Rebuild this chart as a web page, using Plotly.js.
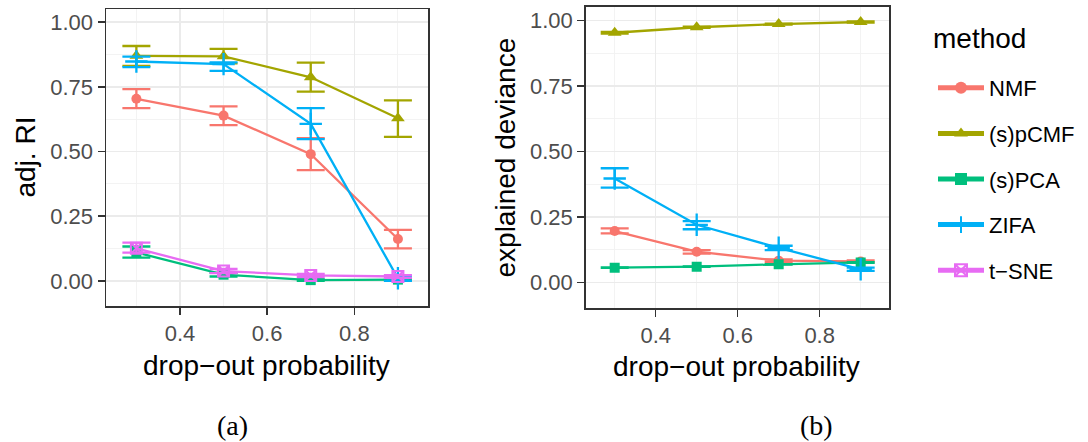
<!DOCTYPE html>
<html>
<head>
<meta charset="utf-8">
<script src="https://cdn.plot.ly/plotly-3.0.1.min.js"></script>
<style>html,body{margin:0;padding:0;background:#fff;}#chart{width:1088px;height:442px;}</style>
</head>
<body>
<div id="chart"></div>
<script>
// ---- data ----
const dropout = [0.3, 0.5, 0.7, 0.9];
const methods = ["NMF", "(s)pCMF", "(s)PCA", "ZIFA", "t\u2212SNE"];
const colors = ["#F8766D", "#A3A500", "#00BF7D", "#00B0F6", "#E76BF3"];
const symbols = ["circle", "triangle-up", "square", "cross-thin-open", "square-x-open"];
const symbolSizes = [10, 12, 10, 16, 11];

// adjusted Rand index (panel a): mean, lower, upper
const riNMF = [0.704, 0.639, 0.490, 0.162];
const riNMFlo = [0.668, 0.602, 0.428, 0.126];
const riNMFhi = [0.741, 0.675, 0.552, 0.197];
const riPCMF = [0.870, 0.868, 0.787, 0.629];
const riPCMFlo = [0.831, 0.841, 0.732, 0.557];
const riPCMFhi = [0.908, 0.897, 0.844, 0.698];
const riPCA = [0.110, 0.024, 0.003, 0.005];
const riPCAlo = [0.090, 0.017, 0.000, 0.001];
const riPCAhi = [0.133, 0.031, 0.007, 0.009];
const riZIFA = [0.848, 0.838, 0.607, 0.010];
const riZIFAlo = [0.826, 0.812, 0.548, 0.000];
const riZIFAhi = [0.867, 0.845, 0.668, 0.020];
const riTSNE = [0.126, 0.038, 0.021, 0.017];
const riTSNElo = [0.109, 0.030, 0.015, 0.012];
const riTSNEhi = [0.148, 0.046, 0.027, 0.022];

// explained deviance (panel b): mean, lower, upper
const edNMF = [0.196, 0.117, 0.083, 0.080];
const edNMFlo = [0.187, 0.110, 0.078, 0.076];
const edNMFhi = [0.206, 0.123, 0.088, 0.084];
const edPCMF = [0.954, 0.975, 0.987, 0.995];
const edPCMFlo = [0.951, 0.973, 0.985, 0.993];
const edPCMFhi = [0.957, 0.977, 0.989, 0.997];
const edPCA = [0.056, 0.060, 0.069, 0.076];
const edPCAlo = [0.055, 0.059, 0.068, 0.075];
const edPCAhi = [0.057, 0.061, 0.070, 0.077];
const edZIFA = [0.397, 0.220, 0.132, 0.050];
const edZIFAlo = [0.362, 0.203, 0.123, 0.044];
const edZIFAhi = [0.436, 0.234, 0.140, 0.056];

// tick labels
const xTicks = [0.4, 0.6, 0.8];
const xTickText = ["0.4", "0.6", "0.8"];
const yTicks = [0, 0.25, 0.5, 0.75, 1];
const yTickText = ["0.00", "0.25", "0.50", "0.75", "1.00"];

const riSeries = [[riNMF, riNMFlo, riNMFhi], [riPCMF, riPCMFlo, riPCMFhi], [riPCA, riPCAlo, riPCAhi], [riZIFA, riZIFAlo, riZIFAhi], [riTSNE, riTSNElo, riTSNEhi]];
const edSeries = [[edNMF, edNMFlo, edNMFhi], [edPCMF, edPCMFlo, edPCMFhi], [edPCA, edPCAlo, edPCAhi], [edZIFA, edZIFAlo, edZIFAhi], null];

function mkTrace(i, s, xa, ya, showleg) {
  const y = s[0], lo = s[1], hi = s[2];
  const isCross = symbols[i].indexOf("cross") === 0;
  return {
    type: "scatter", mode: "lines+markers",
    x: dropout, y: y, xaxis: xa, yaxis: ya,
    name: methods[i], legendgroup: methods[i], showlegend: showleg,
    line: {color: colors[i], width: 2.3},
    marker: {symbol: symbols[i], size: symbolSizes[i], color: colors[i],
             line: {color: colors[i], width: isCross ? 2.3 : (symbols[i].indexOf("open") > 0 ? 2 : 0)}},
    error_y: {type: "data", symmetric: false,
              array: hi.map((h, k) => h - y[k]),
              arrayminus: lo.map((l, k) => y[k] - l),
              color: colors[i], thickness: 2.3, width: 14}
  };
}

const traces = [];
riSeries.forEach((s, i) => traces.push(mkTrace(i, s, "x", "y", true)));
edSeries.forEach((s, i) => { if (s) traces.push(mkTrace(i, s, "x2", "y2", false)); });

const FONT = "Liberation Sans, Arial, Helvetica, sans-serif";
function xa(domain, range) {
  return {domain: domain, range: range, tickmode: "array", tickvals: xTicks, ticktext: xTickText,
    showgrid: true, gridcolor: "#EBEBEB", gridwidth: 1.5,
    minor: {dtick: 0.1, tick0: 0.3, showgrid: true, gridcolor: "#F2F2F2", gridwidth: 0.9, ticks: ""},
    zeroline: false, showline: true, mirror: true, linecolor: "#333333", linewidth: 1.5,
    ticks: "outside", ticklen: 7, tickwidth: 1.5, tickcolor: "#333333",
    tickfont: {family: FONT, size: 22, color: "#4D4D4D"}, fixedrange: true};
}
function ya(domain, range, anchor) {
  return {domain: domain, range: range, anchor: anchor, tickmode: "array", tickvals: yTicks, ticktext: yTickText,
    showgrid: true, gridcolor: "#EBEBEB", gridwidth: 1.5,
    minor: {dtick: 0.125, tick0: 0, showgrid: true, gridcolor: "#F2F2F2", gridwidth: 0.9, ticks: ""},
    zeroline: false, showline: true, mirror: true, linecolor: "#333333", linewidth: 1.5,
    ticks: "outside", ticklen: 7, tickwidth: 1.5, tickcolor: "#333333",
    tickfont: {family: FONT, size: 22, color: "#4D4D4D"}, fixedrange: true};
}

const W = 1088, H = 442;
const layout = {
  width: W, height: H, margin: {l: 0, r: 0, t: 0, b: 0},
  paper_bgcolor: "#FFFFFF", plot_bgcolor: "#FFFFFF",
  font: {family: FONT, color: "#000000"},
  xaxis: xa([106 / W, 428 / W], [0.2303, 0.969]),
  yaxis: ya([1 - 306 / H, 1 - 9 / H], [-0.097, 1.051], "x"),
  xaxis2: Object.assign(xa([585.7 / W, 889.3 / W], [0.2293, 0.9698]), {anchor: "y2"}),
  yaxis2: ya([1 - 308 / H, 1 - 6.7 / H], [-0.098, 1.0535], "x2"),
  showlegend: true,
  legend: {x: 933 / W, y: 1 - 67 / H, xanchor: "left", yanchor: "top",
    bgcolor: "rgba(0,0,0,0)", font: {family: FONT, size: 22, color: "#000000"},
    itemwidth: 46, tracegroupgap: 14, itemsizing: "constant"},
  annotations: [
    {text: "method", xref: "paper", yref: "paper", x: 931 / W, y: 1 - 38 / H,
     showarrow: false, xanchor: "left", yanchor: "middle", font: {family: FONT, size: 28}},
    {text: "adj. RI", xref: "paper", yref: "paper", x: 25 / W, y: 1 - 157.5 / H, textangle: -90,
     showarrow: false, xanchor: "center", yanchor: "middle", font: {family: FONT, size: 28}},
    {text: "explained deviance", xref: "paper", yref: "paper", x: 505 / W, y: 1 - 157.5 / H, textangle: -90,
     showarrow: false, xanchor: "center", yanchor: "middle", font: {family: FONT, size: 28}},
    {text: "drop\u2212out probability", xref: "paper", yref: "paper", x: 266.5 / W, y: 1 - 365 / H,
     showarrow: false, xanchor: "center", yanchor: "middle", font: {family: FONT, size: 28}},
    {text: "drop\u2212out probability", xref: "paper", yref: "paper", x: 736.5 / W, y: 1 - 366 / H,
     showarrow: false, xanchor: "center", yanchor: "middle", font: {family: FONT, size: 28}},
    {text: "(a)", xref: "paper", yref: "paper", x: 232 / W, y: 1 - 425 / H,
     showarrow: false, xanchor: "center", yanchor: "middle", font: {family: "Liberation Serif, DejaVu Serif, serif", size: 28}},
    {text: "(b)", xref: "paper", yref: "paper", x: 816 / W, y: 1 - 425 / H,
     showarrow: false, xanchor: "center", yanchor: "middle", font: {family: "Liberation Serif, DejaVu Serif, serif", size: 28}}
  ]
};

Plotly.newPlot("chart", traces, layout, {staticPlot: true, displayModeBar: false});
</script>
</body>
</html>
